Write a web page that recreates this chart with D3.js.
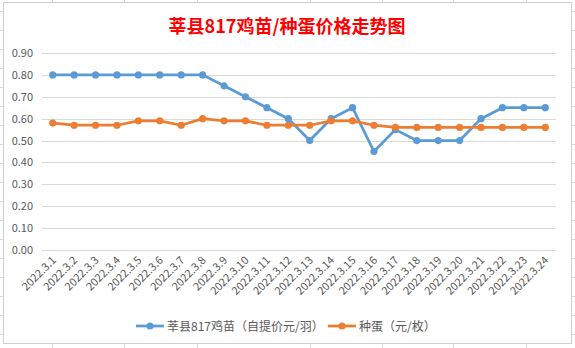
<!DOCTYPE html>
<html><head><meta charset="utf-8">
<script src="https://cdn.jsdelivr.net/npm/d3@7"></script>
<style>html,body{margin:0;padding:0;background:#fff;}svg{display:block;}</style>
</head><body>
<svg id="c" width="575" height="348"></svg>
<script>
const categories = ["2022.3.1","2022.3.2","2022.3.3","2022.3.4","2022.3.5","2022.3.6","2022.3.7","2022.3.8","2022.3.9","2022.3.10","2022.3.11","2022.3.12","2022.3.13","2022.3.14","2022.3.15","2022.3.16","2022.3.17","2022.3.18","2022.3.19","2022.3.20","2022.3.21","2022.3.22","2022.3.23","2022.3.24"];
const chickValues = [0.80,0.80,0.80,0.80,0.80,0.80,0.80,0.80,0.75,0.70,0.65,0.60,0.50,0.60,0.65,0.45,0.55,0.50,0.50,0.50,0.60,0.65,0.65,0.65];
const eggValues = [0.58,0.57,0.57,0.57,0.59,0.59,0.57,0.60,0.59,0.59,0.57,0.57,0.57,0.59,0.59,0.57,0.56,0.56,0.56,0.56,0.56,0.56,0.56,0.56];
const yTicks = [0,0.1,0.2,0.3,0.4,0.5,0.6,0.7,0.8,0.9];
const seriesNames = ["莘县817鸡苗（自提价元/羽）","种蛋（元/枚）"];
const title = "莘县817鸡苗/种蛋价格走势图";

const svg = d3.select("#c");
const font = "'Noto Sans CJK SC','Noto Sans',sans-serif";

// spreadsheet grid behind chart
const colXs = [52,124,197,310,382,453,526];
const sheet = svg.append("g").attr("stroke","#d8d8dc").attr("stroke-width",1);
colXs.forEach(x=>sheet.append("line").attr("x1",x+0.5).attr("x2",x+0.5).attr("y1",0).attr("y2",348));
for(let y=11;y<348;y+=19) sheet.append("line").attr("x1",0).attr("x2",575).attr("y1",y+0.5).attr("y2",y+0.5);

// chart area
svg.append("rect").attr("x",3.5).attr("y",2.5).attr("width",568).attr("height",341)
  .attr("fill","#fff").attr("stroke","#d0d0d4");

svg.append("text").attr("x",287).attr("y",33).attr("text-anchor","middle")
  .attr("font-family",font).attr("font-weight","bold").attr("font-size",18)
  .attr("fill","#ff0000").text(title);

const x = d3.scaleBand().domain(categories).range([42,556]);
const y = d3.scaleLinear().domain([0,0.9]).range([250,53]);

// gridlines
const grid = svg.append("g");
yTicks.forEach(t=>{
  grid.append("line").attr("x1",42).attr("x2",556).attr("y1",Math.round(y(t))+0.5).attr("y2",Math.round(y(t))+0.5)
    .attr("stroke","#d9d9d9").attr("stroke-width",1);
});

// y axis labels
const yAxis = d3.axisLeft(y).tickValues(yTicks).tickFormat(d3.format(".2f")).tickSize(0).tickPadding(0);
const ya = svg.append("g").attr("transform","translate(33,0)").call(yAxis);
ya.select(".domain").remove();
ya.selectAll("text").attr("font-family",font).attr("font-size",11).attr("fill","#595959");

// x axis labels
const xAxis = d3.axisBottom(x).tickSize(0).tickPadding(0);
const xa = svg.append("g").attr("transform","translate(0,250)").call(xAxis);
xa.select(".domain").remove();
xa.selectAll("text").attr("font-family",font).attr("font-size",11).attr("fill","#595959")
  .attr("text-anchor","end").attr("dy",null).attr("y",0)
  .attr("transform","translate(4,11) rotate(-45)");

const cx = d=>x(d)+x.bandwidth()/2;
const line = d3.line().x((d,i)=>cx(categories[i])).y(d=>y(d));
const colors = ["#5b9bd5","#ed7d31"];
[chickValues,eggValues].forEach((vals,k)=>{
  svg.append("path").datum(vals).attr("d",line).attr("fill","none")
    .attr("stroke",colors[k]).attr("stroke-width",2.75).attr("stroke-linejoin","round");
  svg.append("g").selectAll("circle").data(vals).join("circle")
    .attr("cx",(d,i)=>cx(categories[i])).attr("cy",d=>y(d)).attr("r",3.6).attr("fill",colors[k]);
});

// legend
const legendItems = [{x:136,tx:167},{x:328,tx:359}];
legendItems.forEach((it,k)=>{
  const g = svg.append("g");
  g.append("line").attr("x1",it.x).attr("x2",it.x+28).attr("y1",326).attr("y2",326)
    .attr("stroke",colors[k]).attr("stroke-width",2.75);
  g.append("circle").attr("cx",it.x+14).attr("cy",326).attr("r",3.6).attr("fill",colors[k]);
  g.append("text").attr("x",it.tx).attr("y",330.5).attr("font-family",font).attr("font-size",12)
    .attr("fill","#595959").text(seriesNames[k]);
});
</script>
</body></html>
